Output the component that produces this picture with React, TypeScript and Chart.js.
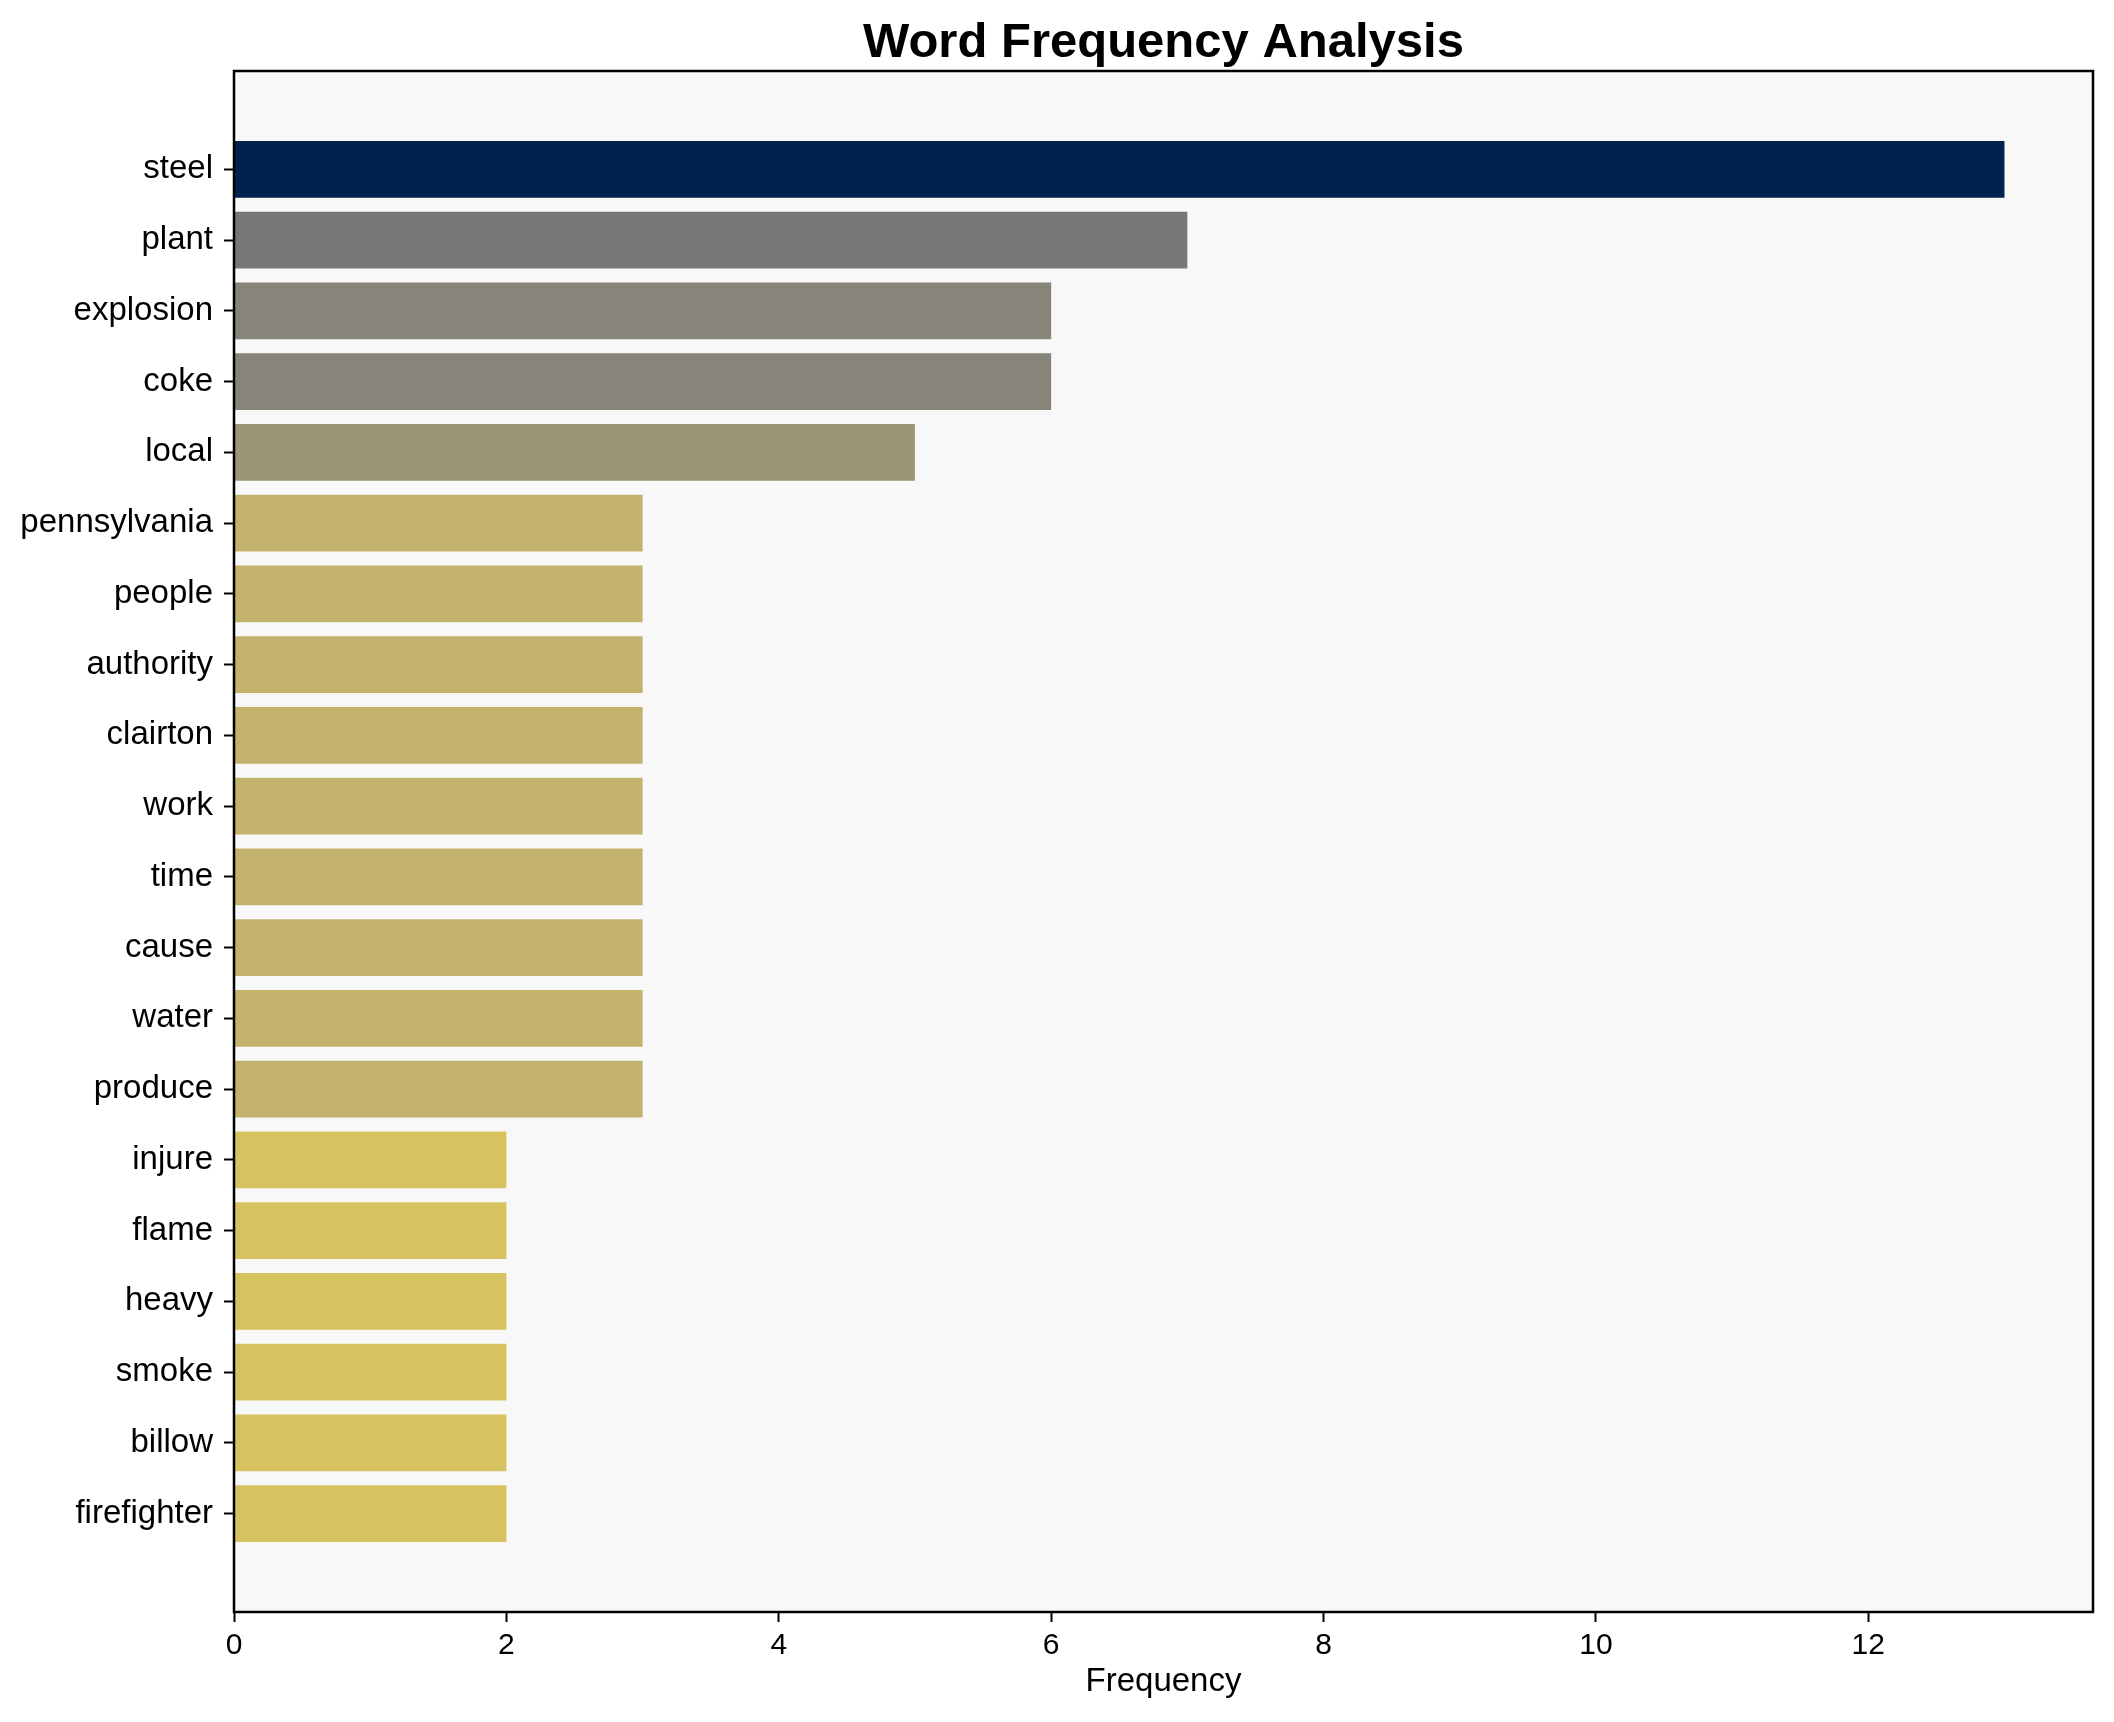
import React, { useEffect, useRef } from "react";
import { Chart, registerables } from "chart.js";

Chart.register(...registerables);

const words = [
  "steel", "plant", "explosion", "coke", "local", "pennsylvania", "people",
  "authority", "clairton", "work", "time", "cause", "water", "produce",
  "injure", "flame", "heavy", "smoke", "billow", "firefighter",
];
const counts = [13, 7, 6, 6, 5, 3, 3, 3, 3, 3, 3, 3, 3, 3, 2, 2, 2, 2, 2, 2];
const barColors = [
  "#00224e", "#777777", "#878479", "#878479", "#9b9676",
  "#c2b26c", "#c2b26c", "#c2b26c", "#c2b26c", "#c2b26c", "#c2b26c", "#c2b26c", "#c2b26c", "#c2b26c",
  "#d6c35f", "#d6c35f", "#d6c35f", "#d6c35f", "#d6c35f", "#d6c35f",
];
const xTicks = [0, 2, 4, 6, 8, 10, 12];
const titleText = "Word Frequency Analysis";
const xLabel = "Frequency";

const FONT = "'Liberation Sans', Arial, Helvetica, sans-serif";

export default function App() {
  const ref = useRef<HTMLCanvasElement | null>(null);

  useEffect(() => {
    document.body.style.margin = "0";
    document.body.style.overflow = "hidden";
    const canvas = ref.current;
    if (!canvas) return;

    const framePlugin = {
      id: "frame",
      beforeDraw(chart: any) {
        const { ctx, chartArea: a } = chart;
        ctx.save();
        ctx.fillStyle = "#ffffff";
        ctx.fillRect(0, 0, chart.width, chart.height);
        ctx.fillStyle = "#f8f8f8";
        ctx.fillRect(a.left, a.top, a.right - a.left, a.bottom - a.top);
        ctx.restore();
      },
      afterDraw(chart: any) {
        const { ctx, chartArea: a } = chart;
        ctx.save();
        ctx.strokeStyle = "#000000";
        ctx.lineWidth = 2.5;
        ctx.strokeRect(a.left, a.top, a.right - a.left, a.bottom - a.top);
        ctx.fillStyle = "#000000";
        ctx.font = `bold 49px ${FONT}`;
        ctx.textAlign = "center";
        ctx.textBaseline = "alphabetic";
        ctx.fillText(titleText, (a.left + a.right) / 2, 57);
        ctx.restore();
      },
    };

    const chart = new Chart(canvas, {
      type: "bar",
      data: {
        datasets: [
          {
            data: counts.map((v, i) => ({ x: v, y: i })),
            backgroundColor: barColors,
            borderWidth: 0,
            barPercentage: 0.8,
            categoryPercentage: 1,
          },
        ],
      },
      options: {
        indexAxis: "y",
        responsive: false,
        animation: false,
        devicePixelRatio: 1,
        layout: { padding: { top: 71, right: 21, left: 0, bottom: 0 } },
        plugins: {
          legend: { display: false },
          tooltip: { enabled: false },
          title: { display: false },
        },
        scales: {
          x: {
            type: "linear",
            position: "bottom",
            min: 0,
            max: 13.65,
            offset: false,
            afterBuildTicks: (scale: any) => {
              scale.ticks = xTicks.map((v) => ({ value: v }));
            },
            afterFit: (scale: any) => {
              scale.height = 110;
            },
            grid: {
              offset: false,
              drawOnChartArea: false,
              drawTicks: true,
              tickLength: 10,
              tickColor: "#000000",
              tickWidth: 2,
            },
            border: { display: false },
            ticks: {
              color: "#000000",
              font: { family: FONT, size: 30 },
              padding: 6,
              maxRotation: 0,
            },
            title: {
              display: true,
              text: xLabel,
              color: "#000000",
              font: { family: FONT, size: 33 },
              padding: { top: 0, bottom: 20 },
            },
          },
          y: {
            type: "linear",
            position: "left",
            reverse: true,
            min: -1.39,
            max: 20.39,
            offset: false,
            afterBuildTicks: (scale: any) => {
              scale.ticks = words.map((_, i) => ({ value: i }));
            },
            afterFit: (scale: any) => {
              scale.width = 234;
            },
            grid: {
              offset: false,
              drawOnChartArea: false,
              drawTicks: true,
              tickLength: 10,
              tickColor: "#000000",
              tickWidth: 2,
            },
            border: { display: false },
            ticks: {
              color: "#000000",
              font: { family: FONT, size: 33 },
              padding: 11,
              autoSkip: false,
              callback: (value: any) => words[Number(value)] ?? "",
            },
          },
        },
      },
      plugins: [framePlugin],
    } as any);

    return () => chart.destroy();
  }, []);

  return (
    <div style={{ width: 2114, height: 1722 }}>
      <canvas ref={ref} width={2114} height={1722} style={{ display: "block" }} />
    </div>
  );
}
